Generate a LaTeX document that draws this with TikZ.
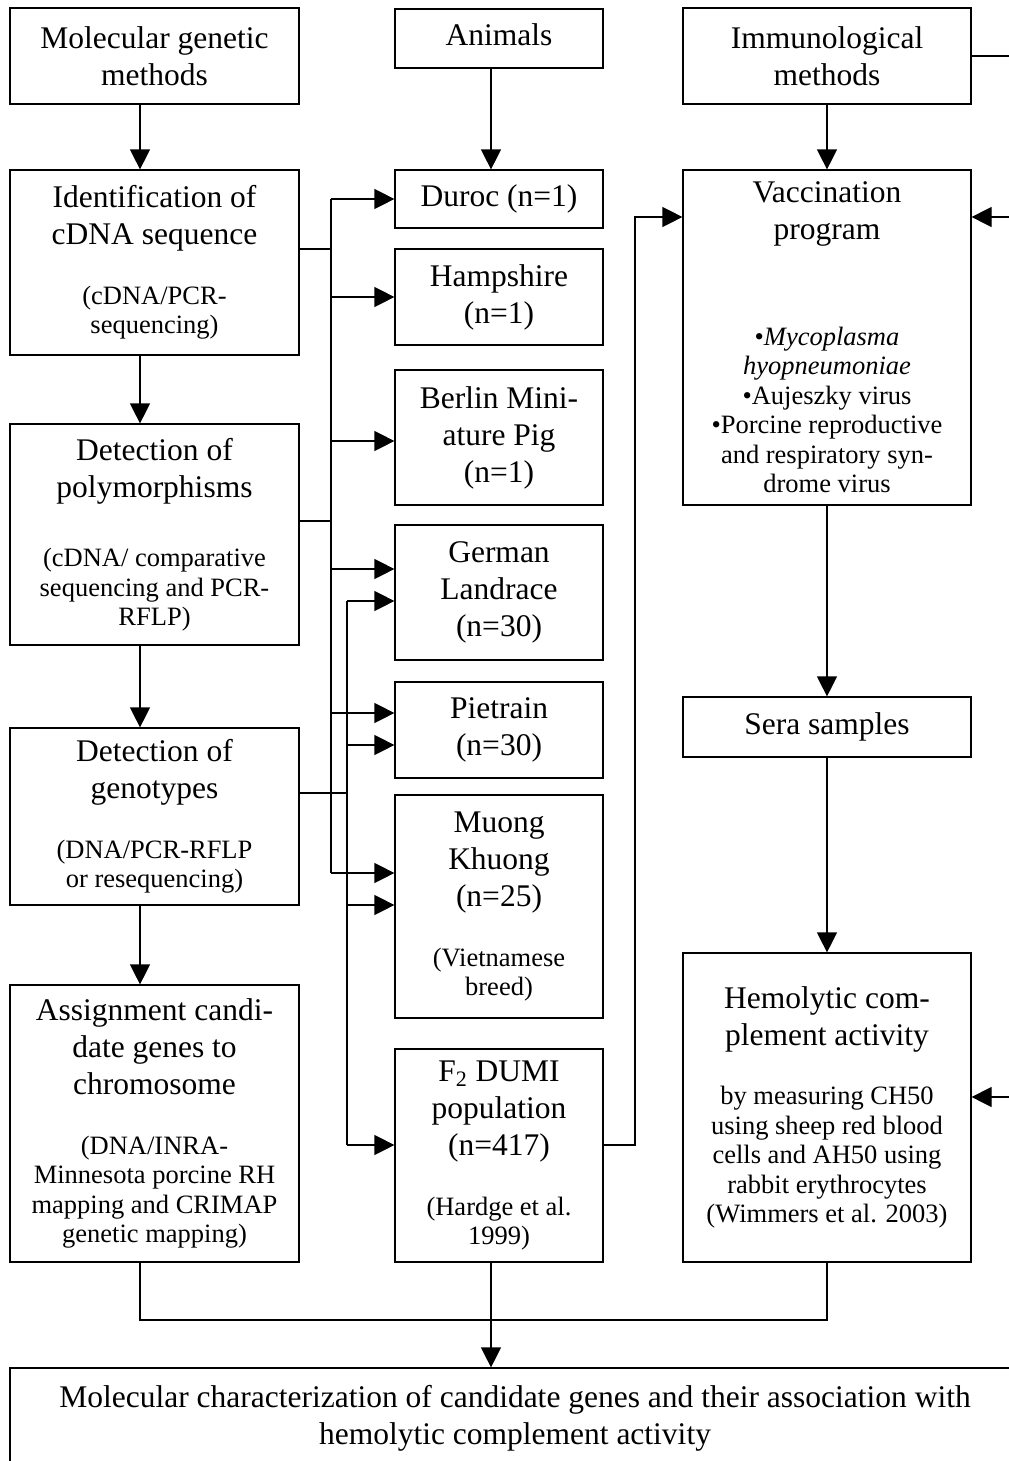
\documentclass[tikz,border=0pt]{standalone}
\usepackage{fontspec}
\setmainfont{Liberation Serif}
\usetikzlibrary{positioning, arrows.meta}
\setlength{\parindent}{0pt}

\newcommand{\bigtxt}{\fontsize{15.75}{18.5}\selectfont}
\newcommand{\smalltxt}{\fontsize{13.25}{14.75}\selectfont}
\newcommand{\detail}[2][15pt]{\par\vspace{#1}{\smalltxt #2\par}}

\tikzset{
  box/.style={draw, line width=0.6pt, align=flush center, inner xsep=2pt, inner ysep=0pt, font=\bigtxt},
  lbox/.style={box, text width=140.5pt},
  mbox/.style={box, text width=100pt},
  rbox/.style={box, text width=140pt},
  arr/.style={-{Triangle[length=10pt,width=10pt]}},
}

\begin{document}
\begin{tikzpicture}[x=0.5pt, y=-0.5pt, line width=0.6pt]
\useasboundingbox (0,0) rectangle (1008,1461);

% left column: molecular genetics
\node[lbox, minimum height=48pt] (mgm) at (154.5,56) {Molecular genetic\\methods};
\node[lbox, minimum height=92.5pt] (ident) at (154.5,262.5) {Identification of\\cDNA sequence\detail{(cDNA/PCR-\\sequencing)}};
\node[lbox, minimum height=110.5pt] (poly) at (154.5,534.5) {Detection of\\polymorphisms\detail[20pt]{(cDNA/ comparative\\sequencing and PCR-\\RFLP)}};
\node[lbox, minimum height=88.5pt] (geno) at (154.5,816.5) {Detection of\\genotypes\detail{(DNA/PCR-RFLP\\or resequencing)}};
\node[lbox, minimum height=138.5pt] (assign) at (154.5,1123.5) {Assignment candi-\\date genes to\\chromosome\detail{(DNA/INRA-\\Minnesota porcine RH\\mapping and CRIMAP\\genetic mapping)}};

% middle column: animals
\node[mbox, minimum height=29.5pt] (animals) at (499,38.5) {\raisebox{3.5pt}{Animals}};
\node[mbox, minimum height=29pt] (duroc) at (499,199) {Duroc (n=1)};
\node[mbox, minimum height=48pt] (hamp) at (499,297) {Hampshire\\(n=1)};
\node[mbox, minimum height=67.5pt] (berlin) at (499,437.5) {Berlin Mini-\\ature Pig\\(n=1)};
\node[mbox, minimum height=67.5pt] (german) at (499,592.5) {German\\Landrace\\(n=30)};
\node[mbox, minimum height=48pt] (pietrain) at (499,730) {Pietrain\\(n=30)};
\node[mbox, minimum height=111.5pt] (muong) at (499,906.5) {Muong\\Khuong\\(n=25)\detail{(Vietnamese\\breed)}};
\node[mbox, minimum height=106.5pt] (f2) at (499,1155.5) {F\textsubscript{2} DUMI\\population\\(n=417)\detail{(Hardge et al.\\1999)}};

% right column: immunology
\node[rbox, minimum height=48pt] (imm) at (827,56) {Immunological\\methods};
\node[rbox, minimum height=167.5pt] (vac) at (827,337.5) {Vaccination\\program\detail[38pt]{•\textit{Mycoplasma}\\\textit{hyopneumoniae}\\•Aujeszky virus\\•Porcine reproductive\\and respiratory syn-\\drome virus}};
\node[rbox, minimum height=30pt] (sera) at (827,727) {Sera samples};
\node[rbox, minimum height=154.5pt] (hemo) at (827,1107.5) {Hemolytic com-\\plement activity\detail{by measuring CH50\\using sheep red blood\\cells and AH50 using\\rabbit erythrocytes\\(Wimmers et al. 2003)}};

% result
\node[box, text width=501pt, minimum height=50pt] (final) at (515,1418) {Molecular characterization of candidate genes and their association with\\hemolytic complement activity};

% helper coordinates
\coordinate (lcol) at (140,0);
\coordinate (mcol) at (491,0);
\coordinate (busA) at (331,0);
\coordinate (busB) at (347,0);
\coordinate (turn) at (635,0);
\coordinate (rail) at (1040,0);
\coordinate (merge) at (0,1320);
\coordinate (ident-o) at ([yshift=6.75pt]ident.east);
\coordinate (poly-o) at ([yshift=6.75pt]poly.east);
\coordinate (geno-o) at ([yshift=11.75pt]geno.east);
\coordinate (f2-o) at ([yshift=5.25pt]f2.east);
\coordinate (vac-w) at ([yshift=60.25pt]vac.west);
\coordinate (vac-e) at ([yshift=60.25pt]vac.east);
\coordinate (hemo-e) at ([yshift=5.25pt]hemo.east);

% vertical flow
\draw[arr] (lcol |- mgm.south) -- (lcol |- ident.north);
\draw[arr] (lcol |- ident.south) -- (lcol |- poly.north);
\draw[arr] (lcol |- poly.south) -- (lcol |- geno.north);
\draw[arr] (lcol |- geno.south) -- (lcol |- assign.north);
\draw[arr] (mcol |- animals.south) -- (mcol |- duroc.north);
\draw[arr] (imm.south) -- (vac.north);
\draw[arr] (vac.south) -- (sera.north);
\draw[arr] (sera.south) -- (hemo.north);

% sequences and polymorphisms to the breeds
\draw (ident-o) -- (busA |- ident-o);
\draw (poly-o) -- (busA |- poly-o);
\foreach \n/\s in {duroc/0, hamp/0, berlin/-1.75, german/11.75, pietrain/8.5, muong/16.75} {
  \coordinate (\n-a) at ([yshift=\s pt]\n.west);
  \draw[arr] (busA |- \n-a) -- (\n-a);
}
\draw (busA |- duroc-a) -- (busA |- muong-a);

% genotypes to the breeds
\draw (geno-o) -- (busB |- geno-o);
\foreach \n/\s in {german/-4.25, pietrain/-7.5, muong/0.75, f2/5.25} {
  \coordinate (\n-b) at ([yshift=\s pt]\n.west);
  \draw[arr] (busB |- \n-b) -- (\n-b);
}
\draw (busB |- german-b) -- (busB |- f2-b);

% F2 population into vaccination
\draw[arr] (f2-o) -- (turn |- f2-o) |- (vac-w);

% immunological methods, right rail
\draw (imm.east) -- (rail |- imm.east) -- (rail |- hemo-e);
\draw[arr] (rail |- vac-e) -- (vac-e);
\draw[arr] (rail |- hemo-e) -- (hemo-e);

% merge into the result
\draw (lcol |- assign.south) -- (lcol |- merge) -- (hemo.south |- merge) -- (hemo.south);
\draw[arr] (mcol |- f2.south) -- (mcol |- final.north);
\end{tikzpicture}
\end{document}
